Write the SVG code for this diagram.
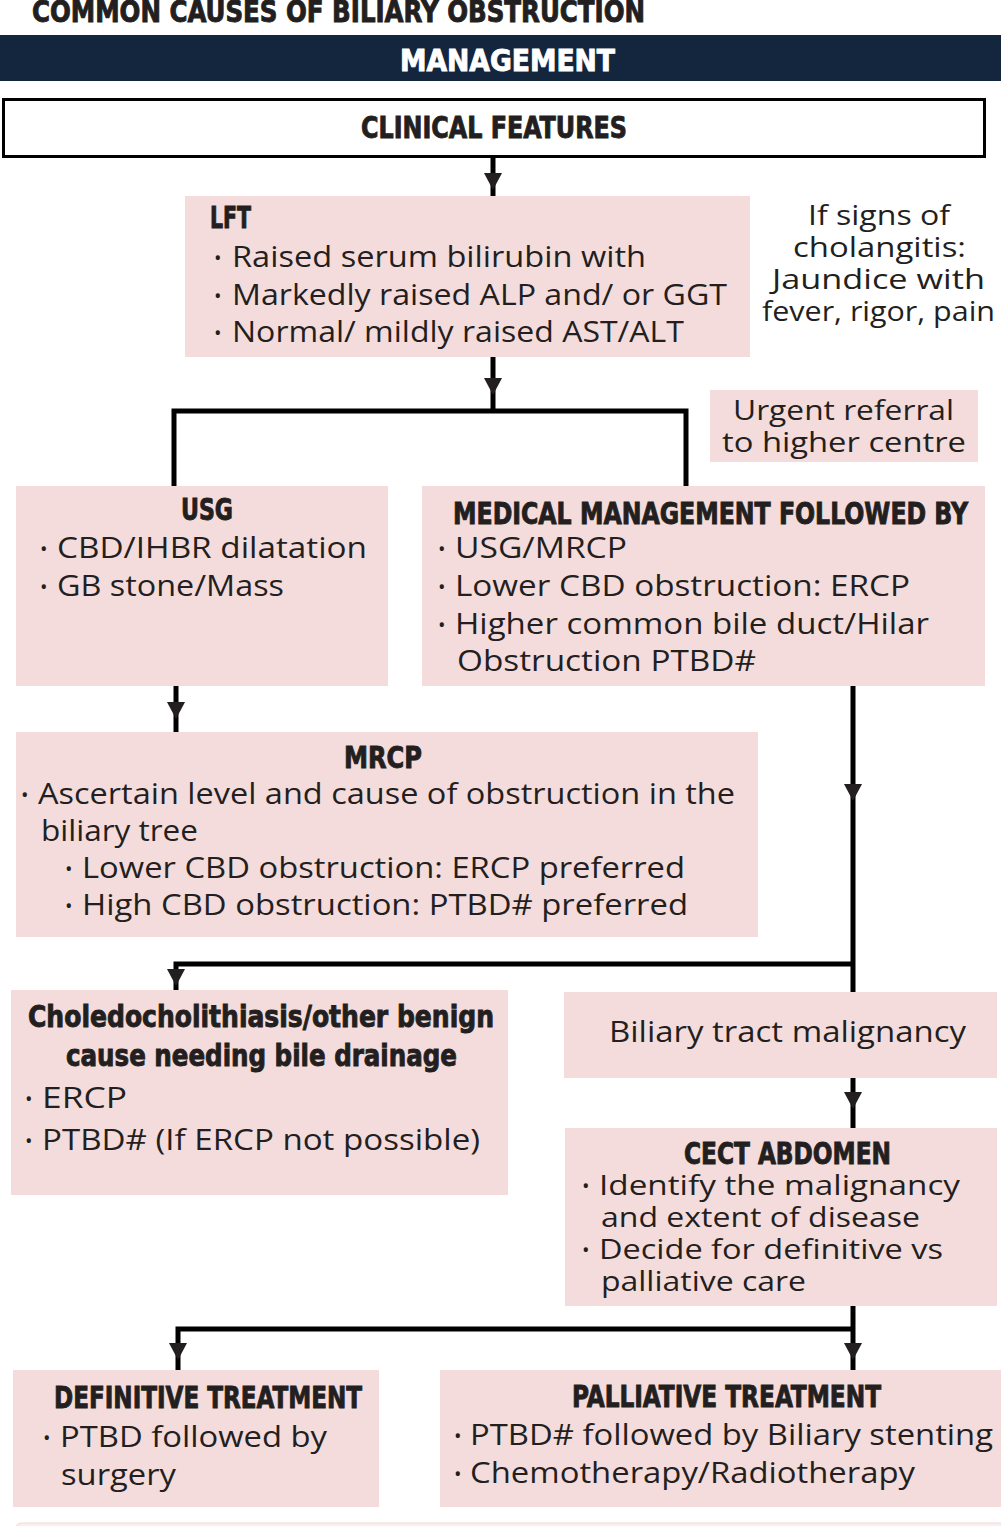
<svg xmlns="http://www.w3.org/2000/svg" xmlns:xlink="http://www.w3.org/1999/xlink" width="1001" height="1526" viewBox="0 0 1001 1526">
<style>
.box{fill:#f5dcdc;}
.hd{font-family:"Liberation Sans Narrow","DejaVu Sans Condensed","Roboto",sans-serif;font-weight:bold;font-size:31px;fill:#231f20;stroke:#231f20;stroke-width:0.9;}
.tx{font-family:"Open Sans","Noto Sans","Lato",sans-serif;font-size:29px;fill:#231f20;}
.sm{font-size:28px;}
.bl{font-family:"Open Sans","Noto Sans",sans-serif;font-size:20px;fill:#231f20;}
.ln{stroke:#000;stroke-width:5;fill:none;}
</style>
<defs>
<path id="ah" d="M-9,0 L9,0 L0,17 Z" fill="#231f20"/>
</defs>
<rect width="1001" height="1526" fill="#fff"/>

<g id="title">
<text class="hd" x="32" y="22" font-size="30" textLength="613" lengthAdjust="spacingAndGlyphs">COMMON CAUSES OF BILIARY OBSTRUCTION</text>
</g>

<g id="management">
<rect x="0" y="35" width="1001" height="46" fill="#13263d"/>
<text class="hd" x="400" y="71" font-size="32" style="fill:#fff;stroke:#fff" textLength="215" lengthAdjust="spacingAndGlyphs">MANAGEMENT</text>
</g>

<g id="connectors">
<line class="ln" x1="493" y1="158" x2="493" y2="196"/>
<use xlink:href="#ah" x="493" y="173"/>
<line class="ln" x1="493" y1="357" x2="493" y2="411"/>
<use xlink:href="#ah" x="493" y="378"/>
<polyline class="ln" points="174,486 174,411 686,411 686,486"/>
<line class="ln" x1="176" y1="686" x2="176" y2="732"/>
<use xlink:href="#ah" x="176" y="702"/>
<line class="ln" x1="853" y1="686" x2="853" y2="992"/>
<use xlink:href="#ah" x="853" y="784"/>
<polyline class="ln" points="853,964 176,964 176,990"/>
<use xlink:href="#ah" x="176" y="969"/>
<line class="ln" x1="853" y1="1078" x2="853" y2="1128"/>
<use xlink:href="#ah" x="853" y="1092"/>
<line class="ln" x1="853" y1="1306" x2="853" y2="1370"/>
<use xlink:href="#ah" x="853" y="1343"/>
<polyline class="ln" points="853,1329 178,1329 178,1370"/>
<use xlink:href="#ah" x="178" y="1343"/>
</g>

<g id="clinical">
<rect x="3.5" y="99.5" width="981" height="57" fill="#fff" stroke="#000" stroke-width="3"/>
<text class="hd" x="361" y="138" textLength="266" lengthAdjust="spacingAndGlyphs">CLINICAL FEATURES</text>
</g>

<g id="lft">
<rect class="box" x="185" y="196" width="565" height="161"/>
<text class="hd" x="210" y="228" textLength="41" lengthAdjust="spacingAndGlyphs">LFT</text>
<text class="bl" x="214" y="265">•</text>
<text class="tx" x="232" y="267" textLength="414" lengthAdjust="spacingAndGlyphs">Raised serum bilirubin with</text>
<text class="bl" x="214" y="303">•</text>
<text class="tx" x="232" y="305" textLength="495" lengthAdjust="spacingAndGlyphs">Markedly raised ALP and/ or GGT</text>
<text class="bl" x="214" y="340">•</text>
<text class="tx" x="232" y="342" textLength="452" lengthAdjust="spacingAndGlyphs">Normal/ mildly raised AST/ALT</text>
</g>

<g id="cholangitis-note">
<text class="tx sm" x="808" y="225" textLength="142" lengthAdjust="spacingAndGlyphs">If signs of</text>
<text class="tx sm" x="793" y="257" textLength="173" lengthAdjust="spacingAndGlyphs">cholangitis:</text>
<text class="tx sm" x="772" y="289" textLength="213" lengthAdjust="spacingAndGlyphs">Jaundice with</text>
<text class="tx sm" x="762" y="321" textLength="233" lengthAdjust="spacingAndGlyphs">fever, rigor, pain</text>
</g>

<g id="urgent">
<rect class="box" x="710" y="390" width="268" height="72"/>
<text class="tx sm" x="733" y="420" textLength="221" lengthAdjust="spacingAndGlyphs">Urgent referral</text>
<text class="tx sm" x="722" y="452" textLength="244" lengthAdjust="spacingAndGlyphs">to higher centre</text>
</g>

<g id="usg">
<rect class="box" x="16" y="486" width="372" height="200"/>
<text class="hd" x="181" y="520" textLength="52" lengthAdjust="spacingAndGlyphs">USG</text>
<text class="bl" x="40" y="556">•</text>
<text class="tx" x="57" y="558" textLength="310" lengthAdjust="spacingAndGlyphs">CBD/IHBR dilatation</text>
<text class="bl" x="40" y="594">•</text>
<text class="tx" x="57" y="596" textLength="227" lengthAdjust="spacingAndGlyphs">GB stone/Mass</text>
</g>

<g id="medical">
<rect class="box" x="422" y="486" width="563" height="200"/>
<text class="hd" x="453" y="524" textLength="515" lengthAdjust="spacingAndGlyphs">MEDICAL MANAGEMENT FOLLOWED BY</text>
<text class="bl" x="438" y="556">•</text>
<text class="tx" x="455" y="558" textLength="172" lengthAdjust="spacingAndGlyphs">USG/MRCP</text>
<text class="bl" x="438" y="594">•</text>
<text class="tx" x="455" y="596" textLength="455" lengthAdjust="spacingAndGlyphs">Lower CBD obstruction: ERCP</text>
<text class="bl" x="438" y="632">•</text>
<text class="tx" x="455" y="634" textLength="474" lengthAdjust="spacingAndGlyphs">Higher common bile duct/Hilar</text>
<text class="tx" x="457" y="671" textLength="299" lengthAdjust="spacingAndGlyphs">Obstruction PTBD#</text>
</g>

<g id="mrcp">
<rect class="box" x="16" y="732" width="742" height="205"/>
<text class="hd" x="344" y="768" textLength="78" lengthAdjust="spacingAndGlyphs">MRCP</text>
<text class="bl" x="21" y="802">•</text>
<text class="tx" x="38" y="804" textLength="697" lengthAdjust="spacingAndGlyphs">Ascertain level and cause of obstruction in the</text>
<text class="tx" x="41" y="841" textLength="157" lengthAdjust="spacingAndGlyphs">biliary tree</text>
<text class="bl" x="65" y="876">•</text>
<text class="tx" x="82" y="878" textLength="603" lengthAdjust="spacingAndGlyphs">Lower CBD obstruction: ERCP preferred</text>
<text class="bl" x="65" y="913">•</text>
<text class="tx" x="82" y="915" textLength="606" lengthAdjust="spacingAndGlyphs">High CBD obstruction: PTBD# preferred</text>
</g>

<g id="benign">
<rect class="box" x="11" y="990" width="497" height="205"/>
<text class="hd" x="28" y="1027" textLength="466" lengthAdjust="spacingAndGlyphs">Choledocholithiasis/other benign</text>
<text class="hd" x="66" y="1066" textLength="391" lengthAdjust="spacingAndGlyphs">cause needing bile drainage</text>
<text class="bl" x="25" y="1106">•</text>
<text class="tx" x="42" y="1108" textLength="85" lengthAdjust="spacingAndGlyphs">ERCP</text>
<text class="bl" x="25" y="1148">•</text>
<text class="tx" x="42" y="1150" textLength="438" lengthAdjust="spacingAndGlyphs">PTBD# (If ERCP not possible)</text>
</g>

<g id="malignancy">
<rect class="box" x="564" y="992" width="433" height="86"/>
<text class="tx" x="609" y="1042" textLength="357" lengthAdjust="spacingAndGlyphs">Biliary tract malignancy</text>
</g>

<g id="cect">
<rect class="box" x="565" y="1128" width="432" height="178"/>
<text class="hd" x="684" y="1164" textLength="207" lengthAdjust="spacingAndGlyphs">CECT ABDOMEN</text>
<text class="bl" x="582" y="1193">•</text>
<text class="tx sm" x="599" y="1195" textLength="361" lengthAdjust="spacingAndGlyphs">Identify the malignancy</text>
<text class="tx sm" x="601" y="1227" textLength="319" lengthAdjust="spacingAndGlyphs">and extent of disease</text>
<text class="bl" x="582" y="1257">•</text>
<text class="tx sm" x="599" y="1259" textLength="344" lengthAdjust="spacingAndGlyphs">Decide for definitive vs</text>
<text class="tx sm" x="601" y="1291" textLength="205" lengthAdjust="spacingAndGlyphs">palliative care</text>
</g>

<g id="definitive">
<rect class="box" x="13" y="1370" width="366" height="137"/>
<text class="hd" x="54" y="1408" textLength="308" lengthAdjust="spacingAndGlyphs">DEFINITIVE TREATMENT</text>
<text class="bl" x="43" y="1445">•</text>
<text class="tx" x="60" y="1447" textLength="267" lengthAdjust="spacingAndGlyphs">PTBD followed by</text>
<text class="tx" x="61" y="1485" textLength="115" lengthAdjust="spacingAndGlyphs">surgery</text>
</g>

<g id="palliative">
<rect class="box" x="440" y="1370" width="561" height="137"/>
<text class="hd" x="572" y="1407" textLength="309" lengthAdjust="spacingAndGlyphs">PALLIATIVE TREATMENT</text>
<text class="bl" x="454" y="1443">•</text>
<text class="tx" x="470" y="1445" textLength="523" lengthAdjust="spacingAndGlyphs">PTBD# followed by Biliary stenting</text>
<text class="bl" x="454" y="1481">•</text>
<text class="tx" x="470" y="1483" textLength="445" lengthAdjust="spacingAndGlyphs">Chemotherapy/Radiotherapy</text>
</g>

<rect x="14" y="1523" width="1000" height="20" rx="8" fill="#faeeee" stroke="#f0d8d8" stroke-width="1"/>
</svg>
